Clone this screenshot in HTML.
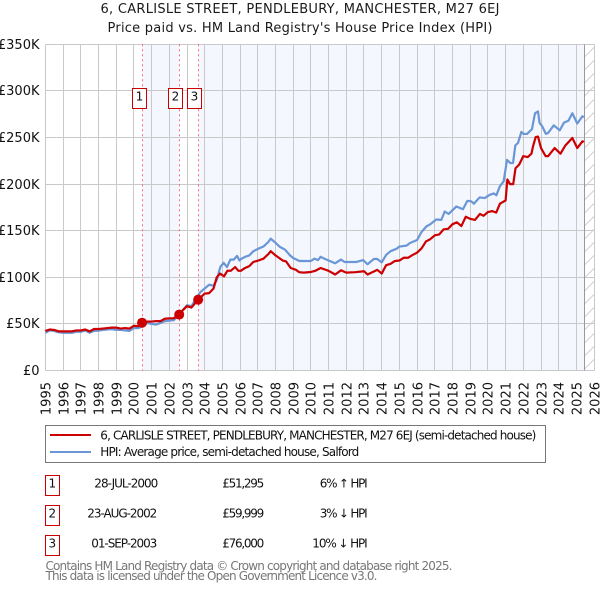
<!DOCTYPE html>
<html lang="en">
<head>
<meta charset="utf-8">
<title>6, Carlisle Street price paid vs HPI</title>
<style>
html,body{margin:0;padding:0;background:#fff;}
svg{display:block;font-family:"DejaVu Sans","Liberation Sans",sans-serif;}
</style>
</head>
<body>
<svg id="chart" xmlns="http://www.w3.org/2000/svg" width="600" height="590" viewBox="0 0 600 590">
  <defs>
    <pattern id="hatch" width="13" height="13" patternUnits="userSpaceOnUse" patternTransform="translate(584.5 44)">
      <line x1="0" y1="13" x2="13" y2="0" stroke="#cfcfcf" stroke-width="1"></line>
    </pattern>
  </defs>
  <rect width="600" height="590" fill="#fff"></rect>

  <text x="300" y="13" text-anchor="middle" font-size="13" fill="#1a1a1a" textLength="399">6, CARLISLE STREET, PENDLEBURY, MANCHESTER, M27 6EJ</text>
  <text x="300" y="32" text-anchor="middle" font-size="13" fill="#1a1a1a" textLength="385">Price paid vs. HM Land Registry's House Price Index (HPI)</text>

  <g id="shading"></g>
  <rect x="584.5" y="44.5" width="10" height="326" fill="url(#hatch)"></rect>
  <g id="grid"></g>
  <line x1="584.5" y1="44.5" x2="584.5" y2="370.5" stroke="#999" stroke-width="1"></line>
  <g id="ylabels"></g>
  <g id="xlabels"></g>
  <g id="vlines"></g>
  <g id="series"></g>
  <g id="markers"></g>
  <g id="flags"></g>

  <g>
    <rect x="45.5" y="425.5" width="500" height="37" fill="#fff" stroke="#777" stroke-width="1"></rect>
    <line x1="50" y1="435" x2="91" y2="435" stroke="#cc0000" stroke-width="2"></line>
    <text x="100.3" y="439.3" font-size="12" fill="#111" textLength="436">6, CARLISLE STREET, PENDLEBURY, MANCHESTER, M27 6EJ (semi-detached house)</text>
    <line x1="50" y1="452" x2="91" y2="452" stroke="#6a96d6" stroke-width="2"></line>
    <text x="100.3" y="456" font-size="12" fill="#111" textLength="259">HPI: Average price, semi-detached house, Salford</text>
  </g>

  <g font-size="12" fill="#111">
    <g>
      <rect x="45.5" y="475.5" width="14" height="20" fill="#fff" stroke="#cc0000" stroke-width="1"></rect>
      <text x="52.3" y="487.3" text-anchor="middle">1</text>
      <text x="94.3" y="487.3" textLength="64">28-JUL-2000</text>
      <text x="222.3" y="487.3" textLength="42">£51,295</text>
      <text x="319.7" y="487.3" textLength="48">6% ↑ HPI</text>
    </g>
    <g>
      <rect x="45.5" y="505.5" width="14" height="20" fill="#fff" stroke="#cc0000" stroke-width="1"></rect>
      <text x="52.3" y="517.3" text-anchor="middle">2</text>
      <text x="87.3" y="517.3" textLength="70">23-AUG-2002</text>
      <text x="222.3" y="517.3" textLength="42">£59,999</text>
      <text x="319.7" y="517.3" textLength="48">3% ↓ HPI</text>
    </g>
    <g>
      <rect x="45.5" y="535.5" width="14" height="20" fill="#fff" stroke="#cc0000" stroke-width="1"></rect>
      <text x="52.3" y="547.3" text-anchor="middle">3</text>
      <text x="91.3" y="547.3" textLength="66">01-SEP-2003</text>
      <text x="222.3" y="547.3" textLength="42">£76,000</text>
      <text x="312.3" y="547.3" textLength="55.4">10% ↓ HPI</text>
    </g>
  </g>

  <text x="45.5" y="570" font-size="12" fill="#777" textLength="407">Contains HM Land Registry data © Crown copyright and database right 2025.</text>
  <text x="45.5" y="580" font-size="12" fill="#777" textLength="332">This data is licensed under the Open Government Licence v3.0.</text>
</svg>

<script>
const yearTicks = [1995,1996,1997,1998,1999,2000,2001,2002,2003,2004,2005,2006,2007,2008,2009,2010,2011,2012,2013,2014,2015,2016,2017,2018,2019,2020,2021,2022,2023,2024,2025,2026];
const priceTicks = [0,50,100,150,200,250,300,350];
const priceTickLabels = ["£0","£50K","£100K","£150K","£200K","£250K","£300K","£350K"];

const priceDates = [1995,1995.25,1995.5,1995.75,1996,1996.25,1996.5,1996.75,1997,1997.25,1997.5,1997.75,1998,1998.25,1998.5,1998.75,1999,1999.25,1999.5,1999.75,2000,2000.25,2000.46,2000.75,2001,2001.25,2001.5,2001.75,2002,2002.25,2002.56,2002.75,2003,2003.25,2003.63,2003.8,2004,2004.25,2004.5,2004.68,2004.87,2005.09,2005.28,2005.47,2005.72,2005.9,2006.04,2006.28,2006.52,2006.75,2007.03,2007.32,2007.6,2007.73,2008,2008.41,2008.6,2008.86,2009.16,2009.33,2009.6,2010,2010.25,2010.55,2011,2011.37,2011.7,2012,2012.5,2013,2013.2,2013.75,2014,2014.25,2014.5,2014.75,2015,2015.25,2015.5,2015.75,2016,2016.25,2016.5,2016.75,2017,2017.25,2017.5,2017.75,2018,2018.25,2018.5,2018.75,2019,2019.27,2019.55,2019.75,2020,2020.25,2020.47,2020.68,2021,2021.1,2021.25,2021.43,2021.56,2021.77,2022,2022.25,2022.46,2022.55,2022.7,2022.83,2023,2023.26,2023.4,2023.77,2024.1,2024.38,2024.77,2025.05,2025.35,2025.42];
const priceValues = [42.5,44,43.5,42,42,42,42,43,43,44,42,44.5,44.5,45,45.5,46,46,45,45.5,45,48,47.5,51.3,52.5,52.5,53,53,55.5,56,56,60,64.5,69,67.5,76,79,82.5,83,88,100,104,101,107,107,111,107,107,110,112,116.5,118,120,125,128,123.5,118,117,110,108,105.5,105,105.7,107,110,107,103,107.5,105,105.5,106.5,103,108,104,113,114.5,117.5,118,121,121,124,126.5,131,138.5,141,145,146,151.5,152,157,159,155,165,162.7,161.6,168,166,170,171,169.5,179,182.5,205,200,200,217,221,230,229,232.6,240.5,250.5,251,238.7,230,230,238.7,232.6,241.6,249.5,238.7,246,245];

const hpiDates = [1995,1995.25,1995.5,1995.75,1996,1996.25,1996.5,1996.75,1997,1997.25,1997.5,1997.75,1998,1998.25,1998.5,1998.75,1999,1999.25,1999.5,1999.75,2000,2000.25,2000.5,2000.75,2001,2001.25,2001.5,2001.75,2002,2002.25,2002.5,2002.75,2003,2003.25,2003.5,2003.75,2004,2004.25,2004.5,2004.68,2004.88,2005.07,2005.26,2005.45,2005.64,2005.83,2005.96,2006.04,2006.28,2006.52,2006.75,2007.03,2007.32,2007.6,2007.73,2008,2008.26,2008.54,2008.82,2009,2009.35,2009.83,2010,2010.2,2010.4,2010.55,2010.8,2011,2011.37,2011.7,2011.9,2012.2,2012.55,2012.95,2013.2,2013.55,2013.75,2014,2014.25,2014.5,2014.85,2015,2015.4,2015.6,2016,2016.25,2016.52,2016.75,2017.08,2017.37,2017.56,2017.78,2018.22,2018.59,2018.84,2019.06,2019.21,2019.53,2019.82,2020.1,2020.34,2020.48,2020.67,2020.89,2021.08,2021.27,2021.42,2021.55,2021.7,2021.89,2022.02,2022.21,2022.49,2022.66,2022.83,2022.92,2023.07,2023.27,2023.4,2023.72,2024.06,2024.3,2024.55,2024.77,2025.05,2025.34,2025.42];
const hpiValues = [40.5,43,42.5,41,40.5,40.5,40.5,41.5,41.5,43,40.5,42.5,42.8,43.5,44,44.3,43.5,43.5,43,42.5,45.5,45.5,47.5,51,50,49.3,51,53,53.5,54,58.5,64.5,70,69,77,84,88,92,91,97,111,115.5,111,119,119,123,118,119.5,122,123.5,128,130.7,133,138,141.5,137,132.5,129.6,123.5,120.7,117.5,117.5,117.5,120,118.5,122,119.6,118,115,119,116.4,116.4,116.4,118.5,114,119.6,119.6,116,124,128,130.7,133,134,136.8,140,148.6,154.5,157,162,161.6,170.6,168,176,173,182,181.5,179,185.7,185,188.5,190,188,197.5,203,226,222.6,222.6,241.6,244,256,253.8,253.8,259,276,278,265.6,262,254,254.8,263,257.7,266,268,276,265,272.8,271.7];

const saleDates = [2000.46,2002.56,2003.63];
const saleValues = [51.295,59.999,76];
const saleNumbers = ["1","2","3"];
const flagDates = [2000.29,2002.37,2003.45];

const svgNS = "http://www.w3.org/2000/svg";
function xScale(year){ return 45.4 + (year - 1995) * 17.7; }
function yScale(k){ return 370.5 - k * 0.932; }
function snap(v){ return Math.floor(v) + 0.5; }
function make(tag, attrs, parent){
  const el = document.createElementNS(svgNS, tag);
  for (const k in attrs) el.setAttribute(k, attrs[k]);
  parent.appendChild(el);
  return el;
}
const shading = document.getElementById("shading");
const grid = document.getElementById("grid");
const ylabels = document.getElementById("ylabels");
const xlabels = document.getElementById("xlabels");
const vlines = document.getElementById("vlines");
const seriesGroup = document.getElementById("series");
const markers = document.getElementById("markers");
const flags = document.getElementById("flags");

const plotTop = yScale(350), plotBottom = yScale(0);

const bandA = make("rect", {x:xScale(saleDates[0]), y:plotTop, width:xScale(saleDates[1])-xScale(saleDates[0]), height:plotBottom-plotTop, fill:"#f4f7fe"}, shading);


const bandB = make("rect", {x:xScale(saleDates[2]), y:plotTop, width:584.5-xScale(saleDates[2]), height:plotBottom-plotTop, fill:"#f4f7fe"}, shading);



priceTicks.forEach(function(t, i){
  const y = snap(yScale(t));
  const line = make("line", {x1:45.5, x2:594.5, y1:y, y2:y, stroke:"#c9c9c9", "stroke-width":1, "shape-rendering":"crispEdges"}, grid);
  
  
  const label = make("text", {x:39.5, y:y+4.5, "text-anchor":"end", "font-size":13, fill:"#111"}, ylabels);
  label.textContent = priceTickLabels[i];
  
  
});

yearTicks.forEach(function(t){
  const x = snap(xScale(t));
  const line = make("line", {x1:x, x2:x, y1:snap(plotTop), y2:snap(plotBottom), stroke:"#c9c9c9", "stroke-width":1, "shape-rendering":"crispEdges"}, grid);
  
  
  const label = make("text", {x:0, y:0, "text-anchor":"end", "font-size":13, fill:"#111", transform:"translate(" + (x+4.8) + " 382) rotate(-90)"}, xlabels);
  label.textContent = String(t);
  
  
});

saleDates.forEach(function(d){
  const x = snap(xScale(d));
  const line = make("line", {x1:x, x2:x, y1:plotTop, y2:plotBottom, stroke:"#ff6b7a", "stroke-width":1, "stroke-dasharray":"2 3"}, vlines);
  
  
});

function pathFrom(dates, values){
  return dates.map(function(d, i){
    return (i ? "L" : "M") + xScale(d).toFixed(2) + " " + yScale(values[i]).toFixed(2);
  }).join(" ");
}
const hpiLine = make("path", {d:pathFrom(hpiDates, hpiValues), fill:"none", stroke:"#6a96d6", "stroke-width":2.2, "stroke-linejoin":"round"}, seriesGroup);


const priceLine = make("path", {d:pathFrom(priceDates, priceValues), fill:"none", stroke:"#cc0000", "stroke-width":2.2, "stroke-linejoin":"round"}, seriesGroup);



saleDates.forEach(function(d, i){
  const dot = make("circle", {cx:xScale(d), cy:yScale(saleValues[i]), r:5, fill:"#cc0000"}, markers);
  
  
  const fx = xScale(flagDates[i]);
  const box = make("rect", {x:snap(fx-7), y:88.5, width:14, height:20, fill:"#fff", stroke:"#cc0000", "stroke-width":1}, flags);
  
  
  const num = make("text", {x:snap(fx-7)+7, y:100.3, "text-anchor":"middle", "font-size":12, fill:"#111"}, flags);
  num.textContent = saleNumbers[i];
  
  
});
</script>
</body>
</html>
